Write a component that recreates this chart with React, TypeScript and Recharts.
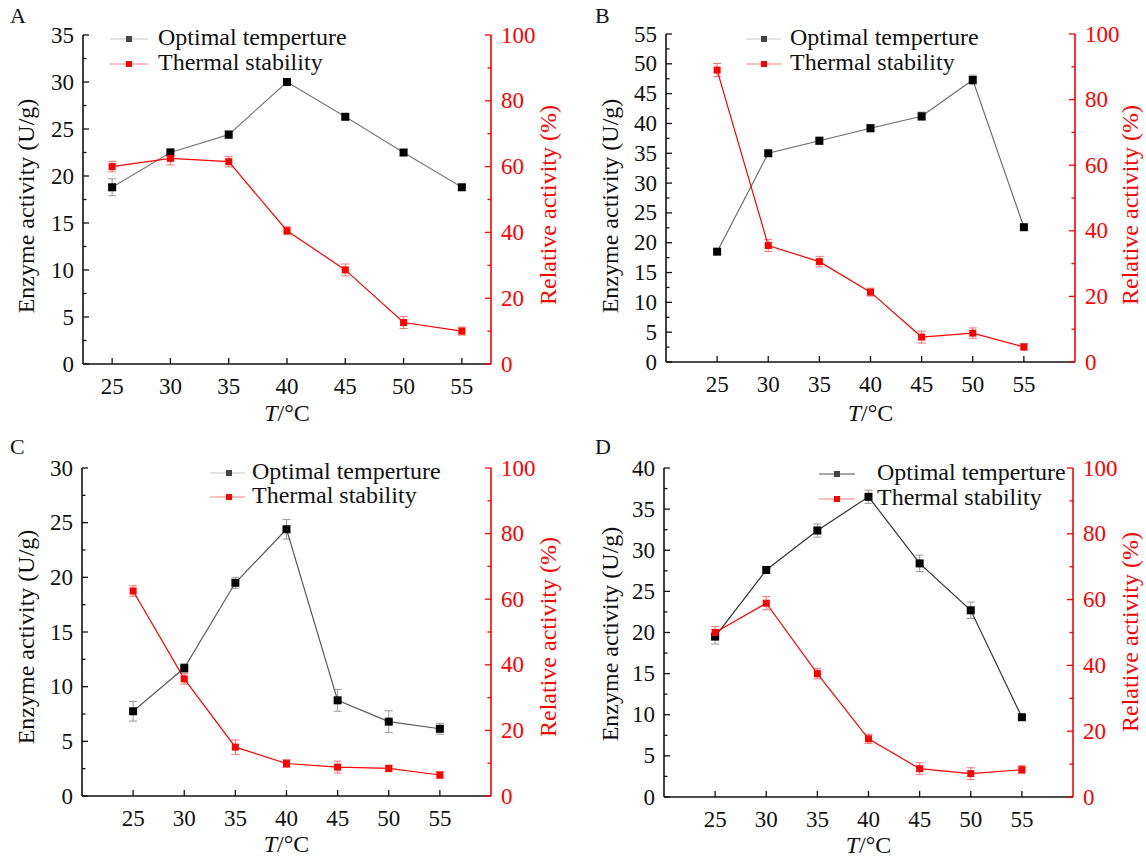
import React from "react";
import { ComposedChart, Line, XAxis, YAxis, ErrorBar, Legend } from "recharts";

const FONT = '"Liberation Serif", "Times New Roman", serif';
const RED = "#ff0000";

// temperatures (x axis)
const temps = [25, 30, 35, 40, 45, 50, 55];

// A
const optA = [18.8, 22.5, 24.4, 30.0, 26.3, 22.5, 18.8];
const optAErr = [0.9, 0.4, 0.4, 0.3, 0.3, 0.3, 0.3];
const thA = [60.0, 62.5, 61.5, 40.5, 28.6, 12.6, 10.0];
const thAErr = [1.6, 2.0, 1.6, 1.2, 1.8, 1.8, 1.2];

// B
const optB = [18.5, 35.0, 37.1, 39.2, 41.2, 47.3, 22.6];
const optBErr = [0.5, 0.4, 0.6, 0.6, 0.7, 0.8, 0.4];
const thB = [89.0, 35.5, 30.6, 21.3, 7.6, 8.8, 4.6];
const thBErr = [2.0, 1.8, 1.6, 1.2, 1.8, 1.6, 1.0];

// C
const optC = [7.75, 11.7, 19.5, 24.4, 8.75, 6.8, 6.15];
const optCErr = [0.9, 0.4, 0.5, 0.9, 1.0, 1.0, 0.5];
const thC = [62.5, 35.7, 14.9, 9.9, 8.8, 8.4, 6.4];
const thCErr = [1.6, 1.6, 2.2, 1.2, 1.8, 1.0, 1.0];

// D
const optD = [19.5, 27.6, 32.4, 36.5, 28.4, 22.7, 9.7];
const optDErr = [0.9, 0.4, 0.8, 0.8, 1.0, 1.0, 0.3];
const thD = [50.0, 58.9, 37.5, 17.7, 8.6, 7.1, 8.3];
const thDErr = [1.8, 2.0, 1.6, 1.4, 1.8, 1.8, 1.2];

const leftMax = [35, 55, 30, 40];
const rightTicks = [0, 10, 20, 30, 40, 50, 60, 70, 80, 90, 100];
const letters = ["A", "B", "C", "D"];
const legendNames = ["Optimal temperture", "Thermal stability"];

const panels = [
  { px: 0, py: 0, left: 83, right: 491, top: 35, bottom: 364, xDomain: [22.5, 57.5], yl: [26, 206], rl: [548, 205], xlb: 421, letter: [10, 23], lg: { x0: 110, x1: 148, mx: 129, tx: 158, b1: 45, b2: 70 }, optColor: "#7a7a7a", lgOpt: "#c8c8c8" },
  { px: 573, py: 0, left: 93, right: 502, top: 34, bottom: 362, xDomain: [20, 60], yl: [37, 206], rl: [557, 205], xlb: 421, letter: [22, 23], lg: { x0: 173, x1: 208, mx: 191, tx: 217, b1: 45, b2: 70 }, optColor: "#6a6a6a", lgOpt: "#c8c8c8" },
  { px: 0, py: 430, left: 82, right: 491, top: 38, bottom: 366, xDomain: [20, 60], yl: [26, 207], rl: [548, 207], xlb: 422, letter: [10, 24], lg: { x0: 210, x1: 245, mx: 229, tx: 252, b1: 49, b2: 73 }, optColor: "#5a5a5a", lgOpt: "#c8c8c8" },
  { px: 573, py: 430, left: 91, right: 500, top: 38, bottom: 367, xDomain: [20, 60], yl: [37, 204], rl: [557, 202], xlb: 423, letter: [22, 24], lg: { x0: 246, x1: 282, mx: 264, tx: 304, b1: 50, b2: 75 }, optColor: "#333333", lgOpt: "#555555" },
];

const series = [
  [optA, optAErr, thA, thAErr],
  [optB, optBErr, thB, thBErr],
  [optC, optCErr, thC, thCErr],
  [optD, optDErr, thD, thDErr],
];

function Panel({ idx }: { idx: number }) {
  const cfg = panels[idx];
  const [opt, optErr, th, thErr] = series[idx];
  const yMax = leftMax[idx];
  const data = temps.map((t, i) => ({ t, opt: opt[i], optErr: optErr[i], th: th[i], thErr: thErr[i] }));
  const leftTicks: number[] = [];
  for (let v = 0; v <= yMax + 1e-9; v += 2.5) leftTicks.push(v);

  const W = 573;
  const H = 430;

  const leftTick = (p: any) => {
    const v = p.payload.value;
    const major = Math.abs(v % 5) < 1e-6;
    return (
      <g>
        <line x1={cfg.left} x2={cfg.left + (major ? 6 : 3.5)} y1={p.y} y2={p.y} stroke="#111" strokeWidth={1.3} />
        {major && (
          <text x={cfg.left - 9} y={p.y} textAnchor="end" dominantBaseline="central" fontSize={23} fontFamily={FONT} fill="#111">
            {v}
          </text>
        )}
      </g>
    );
  };

  const rightTick = (p: any) => {
    const v = p.payload.value;
    const major = v % 20 === 0;
    return (
      <g>
        <line x1={cfg.right} x2={cfg.right - (major ? 6 : 3.5)} y1={p.y} y2={p.y} stroke={RED} strokeWidth={1.3} />
        {major && (
          <text x={cfg.right + 10} y={p.y} textAnchor="start" dominantBaseline="central" fontSize={23} fontFamily={FONT} fill={RED}>
            {v}
          </text>
        )}
      </g>
    );
  };

  const xTick = (p: any) => (
    <g>
      <line x1={p.x} x2={p.x} y1={cfg.bottom} y2={cfg.bottom - 6} stroke="#111" strokeWidth={1.3} />
      <text x={p.x} y={cfg.bottom + 30} textAnchor="middle" fontSize={23} fontFamily={FONT} fill="#111">
        {p.payload.value}
      </text>
    </g>
  );

  const blackDot = (p: any) => <rect key={`o${p.index}`} x={p.cx - 4} y={p.cy - 4} width={8} height={8} fill="#000" />;
  const redDot = (p: any) => <rect key={`r${p.index}`} x={p.cx - 3.5} y={p.cy - 3.5} width={7} height={7} fill={RED} />;

  const lg = cfg.lg;

  return (
    <div style={{ position: "absolute", left: cfg.px, top: cfg.py, width: W, height: H }}>
      <ComposedChart width={W} height={H} data={data} margin={{ top: cfg.top, right: 0, bottom: 0, left: 0 }}>
        <XAxis
          dataKey="t"
          type="number"
          domain={cfg.xDomain}
          ticks={temps}
          interval={0}
          height={H - cfg.bottom}
          axisLine={{ stroke: "#111", strokeWidth: 1.6 }}
          tickLine={false}
          tick={xTick}
          label={() => (
            <text x={(cfg.left + cfg.right) / 2} y={cfg.xlb} textAnchor="middle" fontSize={24} fontFamily={FONT} fill="#111">
              <tspan fontStyle="italic">T</tspan>
              <tspan>/°C</tspan>
            </text>
          )}
        />
        <YAxis
          yAxisId="left"
          orientation="left"
          width={cfg.left}
          domain={[0, yMax]}
          ticks={leftTicks}
          interval={0}
          axisLine={{ stroke: "#111", strokeWidth: 1.6 }}
          tickLine={false}
          tick={leftTick}
          label={() => (
            <text
              x={cfg.yl[0]}
              y={cfg.yl[1]}
              transform={`rotate(-90 ${cfg.yl[0]} ${cfg.yl[1]})`}
              textAnchor="middle"
              dominantBaseline="central"
              fontSize={24}
              fontFamily={FONT}
              fill="#111"
            >
              Enzyme activity (U/g)
            </text>
          )}
        />
        <YAxis
          yAxisId="right"
          orientation="right"
          width={W - cfg.right}
          domain={[0, 100]}
          ticks={rightTicks}
          interval={0}
          axisLine={{ stroke: RED, strokeWidth: 1.6 }}
          tickLine={false}
          tick={rightTick}
          label={() => (
            <text
              x={cfg.rl[0]}
              y={cfg.rl[1]}
              transform={`rotate(-90 ${cfg.rl[0]} ${cfg.rl[1]})`}
              textAnchor="middle"
              dominantBaseline="central"
              fontSize={24}
              fontFamily={FONT}
              fill={RED}
            >
              Relative activity (%)
            </text>
          )}
        />
        <Line
          yAxisId="left"
          dataKey="opt"
          type="linear"
          stroke={cfg.optColor}
          strokeWidth={1.2}
          dot={blackDot}
          activeDot={false}
          isAnimationActive={false}
        >
          <ErrorBar dataKey="optErr" direction="y" width={4} stroke="#999" strokeWidth={1} isAnimationActive={false} />
        </Line>
        <Line
          yAxisId="right"
          dataKey="th"
          type="linear"
          stroke={RED}
          strokeWidth={1.2}
          dot={redDot}
          activeDot={false}
          isAnimationActive={false}
        >
          <ErrorBar dataKey="thErr" direction="y" width={4} stroke="#ff7070" strokeWidth={1} isAnimationActive={false} />
        </Line>
        <Legend
          layout="horizontal"
          verticalAlign="middle"
          align="center"
          wrapperStyle={{ left: 0, top: 0, width: W, height: 90 }}
          content={() => (
            <svg width={W} height={90} style={{ display: "block" }}>
              <text x={cfg.letter[0]} y={cfg.letter[1]} fontSize={22} fontFamily={FONT} fill="#111">
                {letters[idx]}
              </text>
              <line x1={lg.x0} x2={lg.x1} y1={lg.b1 - 6} y2={lg.b1 - 6} stroke={cfg.lgOpt} strokeWidth={1.2} />
              <rect x={lg.mx - 3} y={lg.b1 - 9} width={6} height={6} fill="#444" />
              <text x={lg.tx} y={lg.b1} fontSize={24} fontFamily={FONT} fill="#111">
                {legendNames[0]}
              </text>
              <line x1={lg.x0} x2={lg.x1} y1={lg.b2 - 6} y2={lg.b2 - 6} stroke="#ff8080" strokeWidth={1.2} />
              <rect x={lg.mx - 3} y={lg.b2 - 9} width={6} height={6} fill={RED} />
              <text x={lg.tx} y={lg.b2} fontSize={24} fontFamily={FONT} fill="#111">
                {legendNames[1]}
              </text>
            </svg>
          )}
        />
      </ComposedChart>
    </div>
  );
}

export default function App() {
  return (
    <div style={{ position: "absolute", left: 0, top: 0, width: 1146, height: 860, background: "#fff", fontFamily: FONT }}>
      {panels.map((_, i) => (
        <Panel key={i} idx={i} />
      ))}
    </div>
  );
}
